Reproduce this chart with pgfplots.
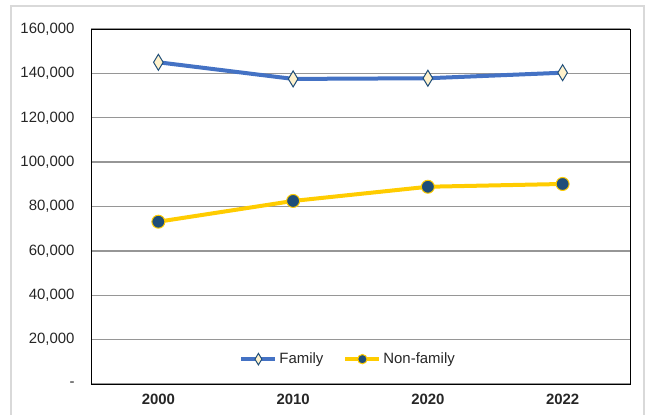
\documentclass[border=0pt]{standalone}
\usepackage{pgfplots}
\pgfplotsset{compat=1.18}
\usepackage{fontspec}
\setmainfont{Liberation Sans}
\definecolor{famblue}{RGB}{68,114,196}
\definecolor{nfyellow}{RGB}{255,204,0}
\definecolor{markblue}{RGB}{31,78,121}
\definecolor{cream}{RGB}{255,242,204}
\definecolor{gridgrey}{RGB}{150,150,150}
\definecolor{framegrey}{RGB}{217,217,217}
\definecolor{labelgrey}{RGB}{38,38,38}

\begin{document}
\begin{tikzpicture}
  \draw[framegrey, line width=1.2bp] (11bp,-20bp) rectangle (644bp,409bp);
  \begin{axis}[
    at={(91bp,31bp)}, anchor=south west,
    scale only axis,
    width=539bp, height=355bp,
    xmin=-0.5, xmax=3.5,
    ymin=0, ymax=160000,
    xtick={0,1,2,3},
    xticklabels={2000,2010,2020,2022},
    ytick={0,20000,40000,60000,80000,100000,120000,140000,160000},
    yticklabels={-,{20,000},{40,000},{60,000},{80,000},{100,000},{120,000},{140,000},{160,000}},
    scaled y ticks=false,
    major tick length=0pt,
    ymajorgrids,
    grid style={gridgrey, line width=1.3bp},
    axis line style={black, line width=0.9bp},
    xticklabel style={font=\fontsize{15}{17}\selectfont\bfseries, text=labelgrey, yshift=-7bp},
    yticklabel style={font=\fontsize{15}{17}\selectfont, text=labelgrey, xshift=-13bp},
    legend columns=2,
    legend style={
      at={(0.477,0.07)}, anchor=center,
      draw=none, fill=none,
      font=\fontsize{15}{17}\selectfont, text=labelgrey,
      /tikz/every even column/.append style={column sep=18bp},
    },
    legend image code/.code={
      \draw[#1, mark=none] (0bp,0bp) -- (34bp,0bp);
      \begin{scope}[scale=0.72]
        \draw[#1, only marks] plot coordinates {(23.6bp,0bp)};
      \end{scope}
    },
  ]
    \addplot[famblue, line width=4bp, mark=diamond*, mark size=8bp,
      mark options={fill=cream, draw=markblue, line width=1bp, xscale=0.8}]
      coordinates {(0,145000) (1,137500) (2,137800) (3,140300)};
    \addlegendentry{Family}
    \addplot[nfyellow, line width=4bp, mark=*, mark size=6.5bp,
      mark options={fill=markblue, draw=nfyellow, line width=1bp}]
      coordinates {(0,73150) (1,82500) (2,88900) (3,90150)};
    \addlegendentry{Non-family}
  \end{axis}
  \pgfresetboundingbox
  \useasboundingbox (0bp,0bp) rectangle (654bp,415bp);
\end{tikzpicture}
\end{document}
